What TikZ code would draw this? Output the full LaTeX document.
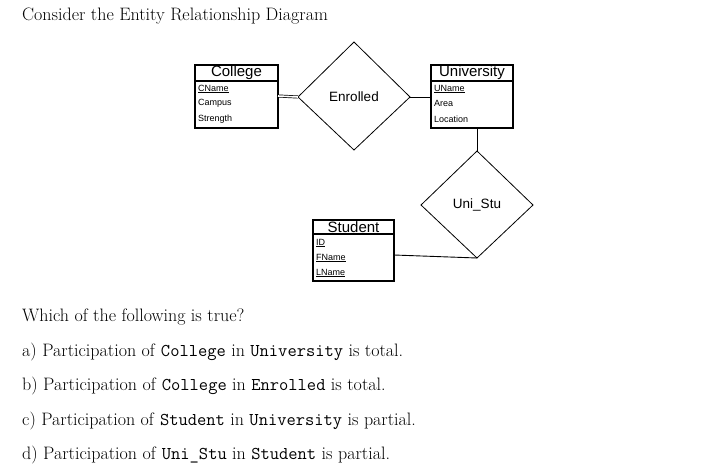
\documentclass[tikz,border=0pt]{standalone}
\usepackage{fontspec}
\newfontfamily\arial{Liberation Sans}
\begin{document}
\begin{tikzpicture}[x=1pt,y=-1pt,
  ent/.style={draw,line width=1.6pt},
  rel/.style={draw,line width=0.8pt},
  ttl/.style={font=\arial\fontsize{15}{15}\selectfont,inner sep=0pt},
  att/.style={font=\arial\fontsize{9}{9}\selectfont,anchor=west,inner sep=0pt},
  q/.style={font=\fontsize{18}{18}\selectfont,anchor=base west,inner sep=0pt}]
\useasboundingbox (0,0) rectangle (728,471);
\node[q] (t) at (22,20) {Consider the Entity Relationship Diagram};
% College
\draw[ent] (195,65) rectangle (278,128); \draw[line width=1.2pt] (195,81)--(278,81);
\node[ttl] (cT) at (236.5,73) {College};
\node[att] (c1) at (198,89) {\underline{CName}};
\node[att] (c2) at (198,103) {Campus};
\node[att] (c3) at (198,119) {Strength};
\coordinate (cR) at (278,96);
% University
\draw[ent] (431,65) rectangle (513,128); \draw[line width=1.2pt] (431,81)--(513,81);
\node[ttl] (uT) at (472,73) {University};
\node[att] (u1) at (434,89) {\underline{UName}};
\node[att] (u2) at (434,103) {Area};
\node[att] (u3) at (434,119) {Location};
\coordinate (uL) at (431,97); \coordinate (uB) at (477,128);
% Student
\draw[ent] (313,220) rectangle (394,281); \draw[line width=1.2pt] (313,234)--(394,234);
\node[ttl] (sT) at (353.5,227.5) {Student};
\node[att] (s1) at (316,243) {\underline{ID}};
\node[att] (s2) at (316,258) {\underline{FName}};
\node[att] (s3) at (316,273) {\underline{LName}};
\coordinate (sR) at (394,255);
% Enrolled
\draw[rel] (354,42) coordinate (eT) -- (410,97) coordinate (eR) -- (354,150) coordinate (eB) -- (298,97) coordinate (eL) -- cycle;
\node[font=\arial\fontsize{13.5}{13.5}\selectfont] (en) at (354,97) {Enrolled};
% Uni_Stu
\draw[rel] (477,151) coordinate (dT) -- (533,205) coordinate (dR) -- (477,258) coordinate (dB) -- (421,205) coordinate (dL) -- cycle;
\node[font=\arial\fontsize{13.5}{13.5}\selectfont] (us) at (477,205) {Uni\_Stu};
% connectors
\draw[line width=0.7pt,double distance=1.6pt] (cR) -- (eL);
\draw[line width=0.9pt] (eR) -- (uL);
\draw[line width=0.9pt] (uB) -- (dT);
\draw[line width=0.9pt] (sR) -- (dB);
% question
\node[q] (q0) at (22,321) {Which of the following is true?};
\node[q] (qa) at (22,356) {a) Participation of \texttt{College} in \texttt{University} is total.};
\node[q] (qb) at (22,390) {b) Participation of \texttt{College} in \texttt{Enrolled} is total.};
\node[q] (qc) at (22,425) {c) Participation of \texttt{Student} in \texttt{University} is partial.};
\node[q] (qd) at (22,459) {d) Participation of \texttt{Uni\_Stu} in \texttt{Student} is partial.};
\end{tikzpicture}
\end{document}
